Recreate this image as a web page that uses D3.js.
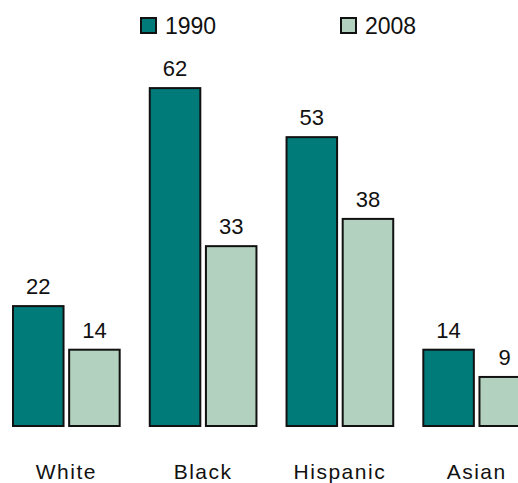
<!DOCTYPE html>
<html><head><meta charset="utf-8">
<script src="https://cdn.jsdelivr.net/npm/d3@7"></script>
<style>body{margin:0;background:#fff}svg{display:block}text{font-family:"Liberation Sans",Arial,sans-serif;fill:#111}</style>
</head><body>
<script>
const categories = ["White","Black","Hispanic","Asian"];
const seriesNames = ["1990","2008"];
const values1990 = [22,62,53,14];
const values2008 = [14,33,38,9];
const colors = ["#007b7a","#b2d1be"];

const W=518,H=483;
const svg=d3.select("body").append("svg").attr("width",W).attr("height",H);
const x0=d3.scaleBand().domain(categories).range([13,530]).paddingInner(0.22).paddingOuter(0);
const x1=d3.scaleBand().domain(seriesNames).range([0,x0.bandwidth()]).paddingInner(0.1).paddingOuter(0);
const y=d3.scaleLinear().domain([0,70]).range([426,426-70*5.45]);

const data=categories.map((c,i)=>({cat:c,vals:[values1990[i],values2008[i]]}));
const g=svg.selectAll("g.grp").data(data).join("g").attr("class","grp")
  .attr("transform",d=>`translate(${x0(d.cat)},0)`);
g.selectAll("rect").data(d=>d.vals.map((v,j)=>({s:seriesNames[j],v,j}))).join("rect")
  .attr("x",d=>x1(d.s)).attr("y",d=>y(d.v)).attr("width",x1.bandwidth()).attr("height",d=>y(0)-y(d.v))
  .attr("fill",d=>colors[d.j]).attr("stroke","#111").attr("stroke-width",2);
g.selectAll("text").data(d=>d.vals.map((v,j)=>({s:seriesNames[j],v,j}))).join("text")
  .attr("x",d=>x1(d.s)+x1.bandwidth()/2).attr("y",d=>y(d.v)-12)
  .attr("text-anchor","middle").attr("font-size",22).text(d=>d.v);

svg.selectAll("text.cat").data(categories).join("text").attr("class","cat")
  .attr("x",d=>x0(d)+x0.bandwidth()/2).attr("y",479).attr("text-anchor","middle")
  .attr("font-size",21).attr("letter-spacing",1.5).text(d=>d);

const legX=[141,341];
const lg=svg.selectAll("g.leg").data(seriesNames).join("g").attr("class","leg")
  .attr("transform",(d,i)=>`translate(${legX[i]},18)`);
lg.append("rect").attr("width",15).attr("height",15).attr("fill",(d,i)=>colors[i]).attr("stroke","#111").attr("stroke-width",2);
lg.append("text").attr("x",24).attr("y",16).attr("font-size",23).text(d=>d);
</script>
</body></html>
